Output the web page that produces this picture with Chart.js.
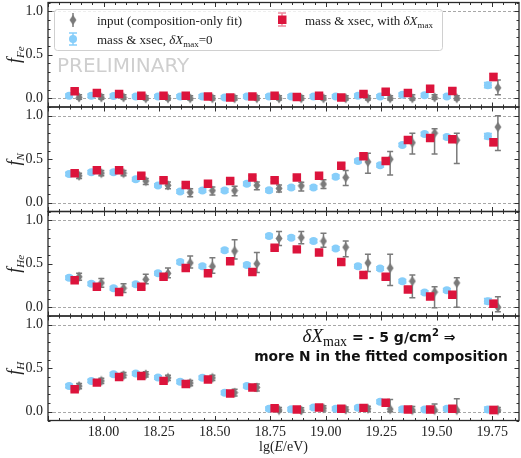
<!DOCTYPE html>
<html>
<head>
<meta charset="utf-8">
<script src="https://cdn.jsdelivr.net/npm/chart.js@4.4.1/dist/chart.umd.min.js"></script>
<style>
  html, body { margin: 0; padding: 0; background: #fff; }
  #wrap { position: relative; width: 521px; height: 458px; }
  #wrap canvas { position: absolute; left: 0; top: 0; }
</style>
</head>
<body>
<div id="wrap">
  <canvas id="p0" width="521" height="458"></canvas>
  <canvas id="p1" width="521" height="458"></canvas>
  <canvas id="p2" width="521" height="458"></canvas>
  <canvas id="p3" width="521" height="458"></canvas>
</div>
<script>
// energy bins lg(E/eV) and axis ticks
const energyBins = [17.85, 17.95, 18.05, 18.15, 18.25, 18.35, 18.45, 18.55, 18.65, 18.75,
                    18.85, 18.95, 19.05, 19.15, 19.25, 19.35, 19.45, 19.55, 19.735];
const xTicks = [18.00, 18.25, 18.50, 18.75, 19.00, 19.25, 19.50, 19.75];
const yTicks = [0.0, 0.5, 1.0];
const elements = ['Fe', 'N', 'He', 'H'];

// input (composition-only fit), grey diamonds
const inputFe   = [0.01, 0.01, 0.01, 0.00, 0.00, 0.00, 0.00, 0.00, 0.00, 0.00, 0.00, 0.00, 0.00, 0.00, 0.00, 0.00, 0.01, 0.00, 0.12];
const inputFeLo = [0.02, 0.02, 0.02, 0.02, 0.02, 0.02, 0.02, 0.02, 0.02, 0.02, 0.02, 0.02, 0.02, 0.02, 0.02, 0.02, 0.02, 0.02, 0.08];
const inputFeHi = [0.03, 0.03, 0.03, 0.03, 0.03, 0.03, 0.03, 0.03, 0.03, 0.03, 0.03, 0.03, 0.03, 0.03, 0.03, 0.04, 0.03, 0.03, 0.09];
const inputN    = [0.31, 0.34, 0.34, 0.25, 0.20, 0.12, 0.14, 0.14, 0.20, 0.165, 0.195, 0.215, 0.29, 0.47, 0.50, 0.69, 0.80, 0.72, 0.87];
const inputNLo  = [0.03, 0.03, 0.03, 0.04, 0.04, 0.05, 0.05, 0.06, 0.05, 0.04, 0.06, 0.05, 0.09, 0.13, 0.18, 0.13, 0.24, 0.27, 0.27];
const inputNHi  = [0.03, 0.03, 0.03, 0.03, 0.04, 0.04, 0.04, 0.05, 0.04, 0.04, 0.04, 0.05, 0.08, 0.10, 0.09, 0.11, 0.05, 0.08, 0.13];
const inputHe   = [0.35, 0.28, 0.22, 0.32, 0.39, 0.51, 0.47, 0.645, 0.50, 0.79, 0.80, 0.76, 0.69, 0.51, 0.45, 0.30, 0.175, 0.28, 0.00];
const inputHeLo = [0.04, 0.05, 0.05, 0.05, 0.05, 0.06, 0.08, 0.09, 0.10, 0.08, 0.07, 0.07, 0.11, 0.10, 0.20, 0.19, 0.18, 0.28, 0.05];
const inputHeHi = [0.04, 0.05, 0.05, 0.06, 0.06, 0.08, 0.10, 0.13, 0.13, 0.08, 0.07, 0.09, 0.07, 0.10, 0.16, 0.07, 0.06, 0.06, 0.12];
const inputH    = [0.295, 0.355, 0.42, 0.43, 0.39, 0.33, 0.39, 0.22, 0.28, 0.02, 0.015, 0.04, 0.025, 0.035, 0.03, 0.02, 0.02, 0.02, 0.02];
const inputHLo  = [0.03, 0.03, 0.03, 0.03, 0.03, 0.03, 0.03, 0.04, 0.04, 0.02, 0.02, 0.03, 0.02, 0.03, 0.03, 0.02, 0.02, 0.02, 0.02];
const inputHHi  = [0.03, 0.03, 0.03, 0.03, 0.03, 0.03, 0.03, 0.04, 0.04, 0.03, 0.03, 0.03, 0.03, 0.03, 0.11, 0.04, 0.07, 0.13, 0.03];

// mass & xsec, dXmax = 0, light blue circles
const massFe    = [0.03, 0.03, 0.025, 0.02, 0.02, 0.02, 0.02, 0.01, 0.02, 0.02, 0.02, 0.02, 0.02, 0.03, 0.02, 0.04, 0.035, 0.02, 0.15];
const massN     = [0.33, 0.35, 0.35, 0.27, 0.20, 0.13, 0.14, 0.14, 0.22, 0.145, 0.175, 0.175, 0.30, 0.48, 0.43, 0.665, 0.79, 0.755, 0.765];
const massHe    = [0.34, 0.27, 0.22, 0.265, 0.39, 0.52, 0.47, 0.655, 0.485, 0.82, 0.80, 0.76, 0.675, 0.47, 0.445, 0.30, 0.17, 0.195, 0.07];
const massH     = [0.295, 0.355, 0.43, 0.44, 0.395, 0.345, 0.39, 0.22, 0.295, 0.035, 0.03, 0.05, 0.035, 0.045, 0.115, 0.03, 0.025, 0.035, 0.025];
const massErr   = [0.02, 0.02, 0.02, 0.02, 0.02, 0.02, 0.02, 0.02, 0.02, 0.02, 0.02, 0.02, 0.02, 0.02, 0.02, 0.02, 0.02, 0.02, 0.03];

// mass & xsec, with dXmax, red squares
const deltaFe   = [0.08, 0.06, 0.05, 0.03, 0.03, 0.03, 0.02, 0.01, 0.02, 0.03, 0.015, 0.03, 0.01, 0.05, 0.075, 0.06, 0.11, 0.085, 0.245];
const deltaN    = [0.34, 0.375, 0.375, 0.31, 0.26, 0.205, 0.22, 0.25, 0.29, 0.26, 0.29, 0.31, 0.425, 0.535, 0.48, 0.72, 0.745, 0.73, 0.695];
const deltaHe   = [0.31, 0.235, 0.175, 0.235, 0.35, 0.45, 0.39, 0.53, 0.405, 0.685, 0.665, 0.63, 0.52, 0.37, 0.35, 0.205, 0.125, 0.145, 0.04];
const deltaH    = [0.26, 0.335, 0.40, 0.41, 0.355, 0.32, 0.37, 0.21, 0.28, 0.04, 0.027, 0.05, 0.035, 0.045, 0.105, 0.027, 0.027, 0.035, 0.02];
const deltaErr  = [0.02, 0.02, 0.02, 0.02, 0.02, 0.02, 0.02, 0.02, 0.02, 0.02, 0.02, 0.02, 0.025, 0.025, 0.025, 0.03, 0.03, 0.03, 0.04];

const inputs = [[inputFe, inputFeLo, inputFeHi], [inputN, inputNLo, inputNHi],
                [inputHe, inputHeLo, inputHeHi], [inputH, inputHLo, inputHHi]];
const masses = [massFe, massN, massHe, massH];
const deltas = [deltaFe, deltaN, deltaHe, deltaH];

// look
const RED = '#dc143c', RED_ERR = 'rgba(220,20,60,0.5)';
const BLUE = '#87cefa';
const GREY = '#7a7a7a';
const SERIF = "'Liberation Serif', 'DejaVu Serif', serif";
const SANS = "'DejaVu Sans', sans-serif";
const PANEL_TOP = [2.5, 107, 211.5, 316];
const PANEL_H = 104.5;
const X_AXIS_H = 20;

// thin diamond marker like matplotlib 'd'
const diamond = document.createElement('canvas');
diamond.width = 8; diamond.height = 11;
(() => {
  const c = diamond.getContext('2d');
  c.fillStyle = GREY;
  c.beginPath();
  c.moveTo(4, 0.5); c.lineTo(7.5, 5.5); c.lineTo(4, 10.5); c.lineTo(0.5, 5.5);
  c.closePath(); c.fill();
})();

const drawRich = (ctx, parts, x, y, align) => {
  let w = 0;
  parts.forEach(p => { ctx.font = p[1]; w += ctx.measureText(p[0]).width; });
  let cx = align === 'center' ? x - w / 2 : x;
  parts.forEach(p => {
    ctx.font = p[1];
    ctx.fillText(p[0], cx, y + (p[2] || 0));
    cx += ctx.measureText(p[0]).width;
  });
};

const errBar = (ctx, x, y0, y1, cap) => {
  ctx.beginPath();
  ctx.moveTo(x, y0); ctx.lineTo(x, y1);
  if (cap) {
    ctx.moveTo(x - cap, y0); ctx.lineTo(x + cap, y0);
    ctx.moveTo(x - cap, y1); ctx.lineTo(x + cap, y1);
  }
  ctx.stroke();
};

const decor = {
  id: 'decor',
  beforeDatasetsDraw(chart, args, opts) {
    const { ctx, chartArea: a, scales: { x, y } } = chart;
    ctx.save();
    // dashed reference lines at 0 and 1
    ctx.strokeStyle = '#a8a8a8';
    ctx.lineWidth = 1;
    ctx.setLineDash([3, 2]);
    [0, 1].forEach(v => {
      const py = Math.round(y.getPixelForValue(v)) + 0.5;
      ctx.beginPath(); ctx.moveTo(a.left, py); ctx.lineTo(a.right, py); ctx.stroke();
    });
    ctx.setLineDash([]);

    if (opts.panel === 0) {
      ctx.fillStyle = '#cfcfcf';
      ctx.font = '20px ' + SANS;
      ctx.textAlign = 'left';
      ctx.textBaseline = 'alphabetic';
      ctx.fillText('PRELIMINARY', 57, 72);
    }

    // error bars under the markers
    chart.data.datasets.forEach((ds, i) => {
      const meta = chart.getDatasetMeta(i);
      ctx.strokeStyle = ds.errColor;
      ctx.lineWidth = ds.errWidth;
      meta.data.forEach((pt, j) => {
        const v = ds.data[j].y;
        const y0 = y.getPixelForValue(v - ds.errLo[j]);
        const y1 = y.getPixelForValue(v + ds.errHi[j]);
        errBar(ctx, pt.x, y0, y1, ds.cap);
      });
    });
    ctx.restore();
  },
  afterDatasetsDraw(chart, args, opts) {
    const { ctx, chartArea: a, scales: { x, y } } = chart;
    ctx.save();
    ctx.strokeStyle = '#333';
    ctx.lineWidth = 1;
    // inward ticks, x on top and bottom
    for (let k = 355; k <= 397; k++) {
      const px = Math.round(x.getPixelForValue(k * 0.05)) + 0.5;
      const len = k % 5 === 0 ? 4.5 : 2.5;
      ctx.beginPath();
      ctx.moveTo(px, a.top); ctx.lineTo(px, a.top + len);
      ctx.moveTo(px, a.bottom); ctx.lineTo(px, a.bottom - len);
      ctx.stroke();
    }
    // y ticks, left and right
    for (let k = -1; k <= 11; k++) {
      const py = Math.round(y.getPixelForValue(k / 10)) + 0.5;
      const len = k % 5 === 0 ? 4.5 : 2.5;
      ctx.beginPath();
      ctx.moveTo(a.left, py); ctx.lineTo(a.left + len, py);
      ctx.moveTo(a.right, py); ctx.lineTo(a.right - len, py);
      ctx.stroke();
    }
    // frame
    ctx.lineWidth = 1.3;
    ctx.strokeStyle = '#2a2a2a';
    ctx.strokeRect(a.left, a.top, a.right - a.left, a.bottom - a.top);

    // y title f_X, rotated
    ctx.fillStyle = '#222';
    ctx.textBaseline = 'alphabetic';
    ctx.textAlign = 'left';
    ctx.translate(20, (a.top + a.bottom) / 2);
    ctx.rotate(-Math.PI / 2);
    drawRich(ctx, [['f', 'italic 18px ' + SERIF], [elements[opts.panel], 'italic 11px ' + SERIF, 3.5]], 0, 0, 'center');
    ctx.setTransform(1, 0, 0, 1, 0, 0);

    if (opts.panel === 0) {
      // legend box
      ctx.fillStyle = 'rgba(255,255,255,0.8)';
      ctx.strokeStyle = '#d0d0d0';
      ctx.lineWidth = 1;
      ctx.beginPath();
      ctx.roundRect(54.5, 9.5, 388, 41, 3);
      ctx.fill(); ctx.stroke();

      // grey entry
      ctx.strokeStyle = GREY; ctx.lineWidth = 1.5;
      errBar(ctx, 73, 13, 27, 0);
      ctx.drawImage(diamond, 73 - diamond.width / 2, 20 - diamond.height / 2);
      // blue entry
      ctx.strokeStyle = BLUE; ctx.lineWidth = 1.5;
      errBar(ctx, 73, 33, 45, 4);
      ctx.fillStyle = BLUE;
      ctx.beginPath(); ctx.arc(73, 39, 4, 0, Math.PI * 2); ctx.fill();
      // red entry
      ctx.strokeStyle = RED_ERR;
      errBar(ctx, 282, 13, 26, 4);
      ctx.fillStyle = RED;
      ctx.fillRect(278, 15.5, 8.5, 8.5);

      ctx.fillStyle = '#222';
      ctx.font = '13px ' + SERIF;
      ctx.fillText('input (composition-only fit)', 97, 24.5);
      drawRich(ctx, [['mass & xsec, ', '13px ' + SERIF], ['δX', 'italic 13px ' + SERIF],
                     ['max', '9px ' + SERIF, 3], ['=0', '13px ' + SERIF]], 97, 43.5);
      drawRich(ctx, [['mass & xsec, with ', '13px ' + SERIF], ['δX', 'italic 13px ' + SERIF],
                     ['max', '9px ' + SERIF, 3]], 305, 24.5);
    }

    if (opts.panel === 3) {
      ctx.fillStyle = '#111';
      drawRich(ctx, [['δX', 'italic 19px ' + SERIF], ['max', '14px ' + SERIF, 4],
                     [' = - 5 g/cm', 'bold 14px ' + SANS], ['2', 'bold 10px ' + SANS, -6],
                     [' ⇒', 'bold 14px ' + SANS]], 379, 342, 'center');
      ctx.font = 'bold 13.8px ' + SANS;
      ctx.textAlign = 'center';
      ctx.fillText('more N in the fitted composition', 381, 360.5);
      ctx.textAlign = 'left';
      // x title
      ctx.fillStyle = '#222';
      drawRich(ctx, [['lg(', '14px ' + SERIF], ['E', 'italic 14px ' + SERIF], ['/eV)', '14px ' + SERIF]],
               (a.left + a.right) / 2, 451, 'center');
    }
    ctx.restore();
  }
};

const makePanel = (i) => {
  const [inp, inpLo, inpHi] = inputs[i];
  const isLast = i === 3;
  const top = PANEL_TOP[i];
  const bottom = 458 - (top + PANEL_H) - (isLast ? X_AXIS_H : 0);
  new Chart(document.getElementById('p' + i), {
    type: 'scatter',
    data: {
      datasets: [
        {
          label: 'mass & xsec, with δXmax',
          data: energyBins.map((e, j) => ({ x: e + 0.02, y: deltas[i][j] })),
          pointStyle: 'rect', pointRadius: 6, backgroundColor: RED, borderWidth: 0,
          errLo: deltaErr, errHi: deltaErr, errColor: RED_ERR, errWidth: 1.5, cap: 4
        },
        {
          label: 'input (composition-only fit)',
          data: energyBins.map((e, j) => ({ x: e + 0.04, y: inp[j] })),
          pointStyle: diamond, pointRadius: 5, backgroundColor: GREY, borderWidth: 0,
          errLo: inpLo, errHi: inpHi, errColor: GREY, errWidth: 1.5, cap: 3
        },
        {
          label: 'mass & xsec, δXmax=0',
          data: energyBins.map((e, j) => ({ x: e - 0.005, y: masses[i][j] })),
          pointStyle: 'circle', pointRadius: 4, backgroundColor: BLUE, borderWidth: 0,
          errLo: massErr, errHi: massErr, errColor: BLUE, errWidth: 1.5, cap: 4
        }
      ]
    },
    options: {
      responsive: false,
      animation: false,
      events: [],
      layout: { autoPadding: false, padding: { top: top, bottom: bottom, left: 0, right: 2 } },
      plugins: { legend: { display: false }, tooltip: { enabled: false }, decor: { panel: i } },
      scales: {
        x: {
          type: 'linear', min: 17.75, max: 19.87,
          display: isLast,
          grid: { display: false, drawTicks: false },
          border: { display: false },
          afterBuildTicks: s => { s.ticks = xTicks.map(v => ({ value: v })); },
          afterFit: s => { if (isLast) { s.height = X_AXIS_H; s.paddingLeft = 0; s.paddingRight = 0; } },
          ticks: {
            maxRotation: 0, autoSkip: false, padding: 3, color: '#222',
            font: { family: SERIF, size: 14 },
            callback: v => v.toFixed(2)
          }
        },
        y: {
          min: -0.1, max: 1.1,
          grid: { display: false, drawTicks: false },
          border: { display: false },
          afterBuildTicks: s => { s.ticks = yTicks.map(v => ({ value: v })); },
          afterFit: s => { s.width = 48; s.paddingTop = 0; s.paddingBottom = 0; },
          ticks: {
            padding: 5, color: '#222',
            font: { family: SERIF, size: 14 },
            callback: v => v.toFixed(1)
          }
        }
      }
    },
    plugins: [decor]
  });
};

document.addEventListener('DOMContentLoaded', () => elements.forEach((el, i) => makePanel(i)));
</script>
</body>
</html>
